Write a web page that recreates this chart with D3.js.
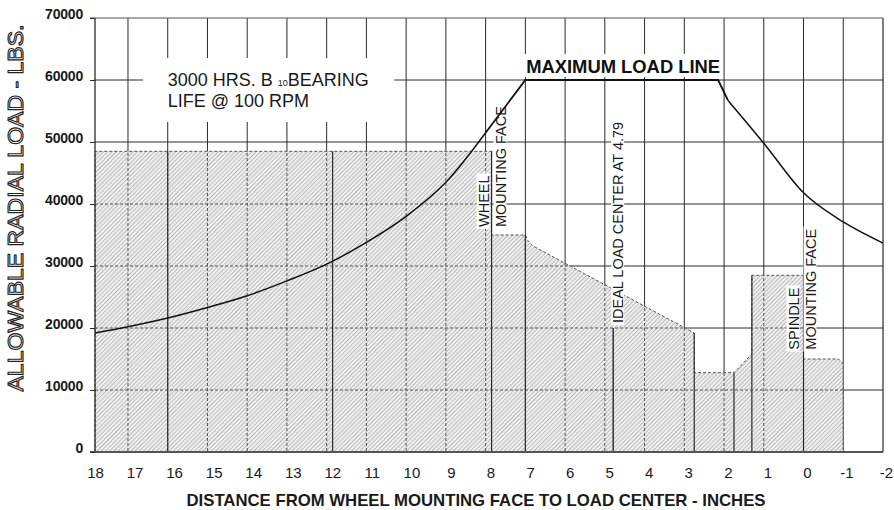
<!DOCTYPE html>
<meta charset="utf-8">
<style>
body { margin: 0; background: #fff; }
text { font-family: Arial, "Liberation Sans", Helvetica, sans-serif; }
.grid line { stroke: #2a2a2a; stroke-width: 1; }
.dgrid line { stroke: #555; stroke-width: 1; stroke-dasharray: 3,2; }
</style>
<svg width="894" height="510"></svg>
<script src="https://cdn.jsdelivr.net/npm/d3@7"></script>
<script>

// tick labels
var xTicks = [18, 17, 16, 15, 14, 13, 12, 11, 10, 9, 8, 7, 6, 5, 4, 3, 2, 1, 0, -1, -2];
var yTicks = [0, 10000, 20000, 30000, 40000, 50000, 60000, 70000];
var gridX = [17, 16, 15, 14, 13, 12, 11, 10, 9, 8, 7, 6, 5, 4, 3, 2, 1, 0, -1];
var gridY = [10000, 20000, 30000, 40000, 50000, 60000];

// maximum load line
var riseX    = [17.83, 17, 16, 15, 14, 13, 12, 11, 10, 9, 8];
var riseLoad = [19200, 20200, 21600, 23300, 25200, 27600, 30300, 33800, 38000, 43500, 51500];
var topX     = [8, 7, 2.15, 1.9];
var topLoad  = [51500, 60000, 60000, 56700];
var fallX    = [1.9, 1, 0, -1, -2];
var fallLoad = [56700, 49800, 41800, 37100, 33700];

// hatched allowable region
var shadeX    = [17.83, 17.83, 7.85, 7.85, 7, 6.95, 6.8, 2.75, 2.75, 1.75, 1.3, 1.3, 0, 0, -0.88, -1, -1];
var shadeLoad = [0, 48500, 48500, 35000, 35000, 34200, 33200, 19200, 12800, 12800, 15800, 28500, 28500, 15000, 15000, 14200, 0];

// solid step lines inside the hatch
var markX   = [16, 11.85, 7.85, 7, 2.75, 1.75, 1.3, 0];
var markTop = [48500, 48500, 48500, 35000, 19200, 12800, 28500, 28500];
var idealX = 4.79, idealTop = 20000;

var svg = d3.select("svg");

var x = d3.scaleLinear().domain([17.83, -2]).range([95, 883]);
var xl = d3.scaleLinear().domain([18, -2]).range([95, 886]);
var y = d3.scaleLinear().domain([0, 70000]).range([452, 18]);

var defs = svg.append("defs");
var pat = defs.append("pattern")
    .attr("id", "hatch")
    .attr("width", 3).attr("height", 3)
    .attr("patternUnits", "userSpaceOnUse")
    .attr("patternTransform", "rotate(45)");
pat.append("rect").attr("width", 3).attr("height", 3).attr("fill", "#efefef");
pat.append("line").attr("x1", 0).attr("y1", 0).attr("x2", 0).attr("y2", 3)
    .attr("stroke", "#8a8a8a").attr("stroke-width", 1);

var line = d3.line().x(function(d) { return x(d[0]); }).y(function(d) { return y(d[1]); });
var shadePts = d3.zip(shadeX, shadeLoad);

defs.append("clipPath").attr("id", "shadeClip")
  .append("path").attr("d", line(shadePts) + "Z");

// solid grid
var grid = svg.append("g").attr("class", "grid");
grid.selectAll(".v").data(gridX).enter().append("line")
    .attr("x1", function(d) { return x(d); }).attr("x2", function(d) { return x(d); })
    .attr("y1", y(70000)).attr("y2", y(0));
grid.selectAll(".h").data(gridY).enter().append("line")
    .attr("x1", x(17.83)).attr("x2", x(-2))
    .attr("y1", function(d) { return y(d); }).attr("y2", function(d) { return y(d); });

// hatch
svg.append("path")
    .attr("d", line(shadePts) + "Z")
    .attr("fill", "url(#hatch)")
    .attr("stroke", "#555")
    .attr("stroke-dasharray", "3,2")
    .attr("stroke-width", 1);

// dashed grid inside hatch
var dg = svg.append("g").attr("class", "dgrid").attr("clip-path", "url(#shadeClip)");
dg.selectAll(".v").data(gridX).enter().append("line")
    .attr("x1", function(d) { return x(d); }).attr("x2", function(d) { return x(d); })
    .attr("y1", y(70000)).attr("y2", y(0));
dg.selectAll(".h").data(gridY).enter().append("line")
    .attr("x1", x(17.83)).attr("x2", x(-2))
    .attr("y1", function(d) { return y(d); }).attr("y2", function(d) { return y(d); });

svg.append("g").selectAll("line").data(d3.zip(markX, markTop)).enter().append("line")
    .attr("x1", function(d) { return x(d[0]); }).attr("x2", function(d) { return x(d[0]); })
    .attr("y1", function(d) { return y(d[1]); }).attr("y2", y(0))
    .attr("stroke", "#2a2a2a").attr("stroke-width", 1.2);

svg.append("line")
    .attr("x1", x(idealX)).attr("x2", x(idealX))
    .attr("y1", y(idealTop)).attr("y2", y(0))
    .attr("stroke", "#1a1a1a").attr("stroke-width", 1.3);

// frame
svg.append("line").attr("x1", 90).attr("x2", x(-2)).attr("y1", y(70000)).attr("y2", y(70000))
    .attr("stroke", "#555").attr("stroke-width", 1.2);
svg.append("line").attr("x1", x(-2)).attr("x2", x(-2)).attr("y1", y(70000)).attr("y2", y(0))
    .attr("stroke", "#2a2a2a").attr("stroke-width", 1.2);
svg.append("line").attr("x1", x(17.83)).attr("x2", x(17.83)).attr("y1", y(70000)).attr("y2", y(0))
    .attr("stroke", "#2a2a2a").attr("stroke-width", 1.3);
svg.append("line").attr("x1", 90).attr("x2", x(-2)).attr("y1", y(0)).attr("y2", y(0))
    .attr("stroke", "#555").attr("stroke-width", 2);

// axes
var yAxis = svg.append("g")
    .attr("transform", "translate(" + x(17.83) + ",0)")
    .call(d3.axisLeft(y).tickValues(yTicks).tickSize(5).tickPadding(7).tickFormat(function(d) { return String(d); }));
yAxis.select(".domain").remove();
yAxis.selectAll(".tick line").attr("stroke", "#2a2a2a");
yAxis.selectAll(".tick text")
    .attr("dy", 0)
    .style("font-family", "Arial, 'Liberation Sans', sans-serif")
    .style("font-weight", "bold")
    .style("font-size", "14px")
    .style("letter-spacing", "-0.2px")
    .style("fill", "#1a1a1a");

var xAxis = svg.append("g")
    .attr("transform", "translate(0," + y(0) + ")")
    .call(d3.axisBottom(xl).tickValues(xTicks).tickSize(0).tickPadding(15).tickFormat(function(d) { return String(d); }));
xAxis.select(".domain").remove();
xAxis.selectAll(".tick text")
    .style("font-family", "Arial, 'Liberation Sans', sans-serif")
    .style("font-size", "15px")
    .style("fill", "#1a1a1a");

// note box
svg.append("rect")
    .attr("x", x(16.62)).attr("y", y(63550))
    .attr("width", x(10.3) - x(16.62)).attr("height", y(53230) - y(63550))
    .attr("fill", "#fff");
var note = svg.append("text").attr("x", x(16)).attr("y", y(59100))
    .style("font-size", "18px").style("fill", "#1a1a1a");
note.append("tspan").text("3000 HRS. B ");
note.append("tspan").text("10").style("font-size", "9px");
note.append("tspan").text("BEARING");
svg.append("text").attr("x", x(16)).attr("y", y(55650))
    .style("font-size", "18px").style("fill", "#1a1a1a")
    .text("LIFE @ 100 RPM");

svg.append("rect")
    .attr("x", x(7.05)).attr("y", 54)
    .attr("width", x(2.05) - x(7.05)).attr("height", 23)
    .attr("fill", "#fff");
svg.append("text").attr("x", x(6.98)).attr("y", y(60000) - 7)
    .style("font-size", "19px").style("font-weight", "bold")
    .attr("textLength", 194).attr("lengthAdjust", "spacingAndGlyphs")
    .style("fill", "#111")
    .text("MAXIMUM LOAD LINE");

// rotated labels
function vlabel(px, py, lines, gap) {
  var g = svg.append("g").attr("transform", "translate(" + px + "," + py + ") rotate(-90)");
  var bg = g.append("g");
  lines.forEach(function(s, i) {
    var t = g.append("text").attr("x", 0).attr("y", i * gap)
        .style("font-size", "14.5px").style("fill", "#1a1a1a").text(s);
    var b = t.node().getBBox();
    bg.append("rect").attr("x", b.x - 2).attr("y", b.y + 1)
        .attr("width", b.width + 4).attr("height", b.height - 3)
        .attr("fill", "#fff");
  });
}
vlabel(x(7.85) - 3, y(35000) - 8, ["WHEEL", "MOUNTING FACE"], 17);
vlabel(x(idealX) + 10, y(20800), ["IDEAL LOAD CENTER AT 4.79"], 17);
vlabel(x(0) - 5, y(16500), ["SPINDLE", "MOUNTING FACE"], 17);

// maximum load line
svg.append("path")
    .attr("d", d3.line().curve(d3.curveMonotoneX).x(function(d) { return x(d[0]); }).y(function(d) { return y(d[1]); })(d3.zip(riseX, riseLoad)))
    .attr("fill", "none").attr("stroke", "#111").attr("stroke-width", 1.5);
svg.append("path")
    .attr("d", line(d3.zip(topX, topLoad)))
    .attr("fill", "none").attr("stroke", "#111").attr("stroke-width", 1.8);
svg.append("path")
    .attr("d", d3.line().curve(d3.curveMonotoneX).x(function(d) { return x(d[0]); }).y(function(d) { return y(d[1]); })(d3.zip(fallX, fallLoad)))
    .attr("fill", "none").attr("stroke", "#111").attr("stroke-width", 1.5);

// axis titles
svg.append("text")
    .attr("transform", "translate(23," + 208 + ") rotate(-90)")
    .attr("text-anchor", "middle")
    .attr("textLength", 367).attr("lengthAdjust", "spacingAndGlyphs")
    .style("font-size", "22px")
    .style("fill", "#fff").style("stroke", "#222").style("stroke-width", "1.1px")
    .text("ALLOWABLE RADIAL LOAD - LBS.");

svg.append("text")
    .attr("x", 476).attr("y", 506)
    .attr("text-anchor", "middle")
    .attr("textLength", 579).attr("lengthAdjust", "spacingAndGlyphs")
    .style("font-size", "17px").style("font-weight", "bold")
    .style("fill", "#1a1a1a")
    .text("DISTANCE FROM WHEEL MOUNTING FACE TO LOAD CENTER - INCHES");

</script>
